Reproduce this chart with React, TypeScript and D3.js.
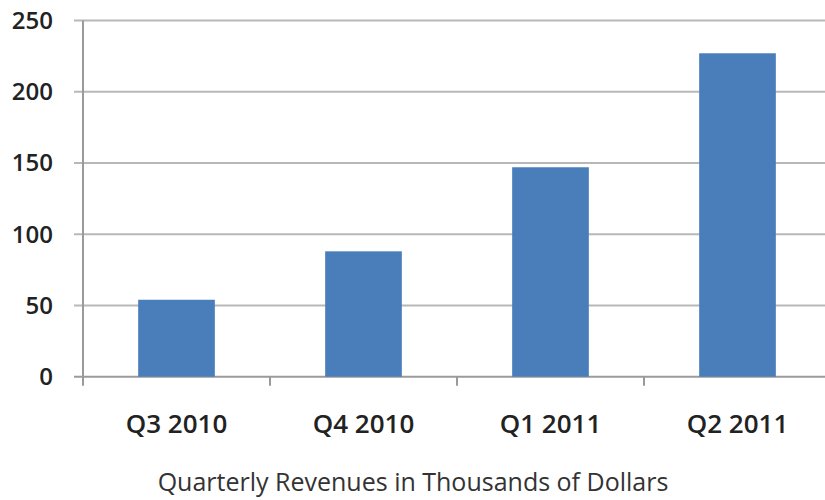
import React from "react";
import * as d3 from "d3";

const categories = ["Q3 2010", "Q4 2010", "Q1 2011", "Q2 2011"];
const revenues = [54, 88, 147, 227];
const yTicks = [0, 50, 100, 150, 200, 250];
const xTitle = "Quarterly Revenues in Thousands of Dollars";

export default function App() {
  const W = 825, H = 500;
  const left = 83, right = 831, top = 20.5, bottom = 376.7;
  const y = d3.scaleLinear().domain([0, 250]).range([bottom, top]);
  const xBand = d3.scaleBand<string>().domain(categories).range([left, right]).padding(0);
  const xBar = d3.scaleBand<string>().domain(categories).range([left, right]).paddingInner(0.59).paddingOuter(0.295);
  const font = "'Open Sans', 'Liberation Sans', sans-serif";
  const boundaries = categories.map((c) => xBand(c) as number);
  return (
    <svg width={W} height={H} style={{ position: "absolute", left: 0, top: 0, background: "#fff" }}>
      {yTicks.map((t) => (
        <g key={t}>
          <line x1={74} x2={W} y1={y(t)} y2={y(t)} stroke={t === 0 ? "#9a9a9a" : "#b8b8b8"} strokeWidth={2} />
          <text x={53} y={y(t) + 8.5} textAnchor="end" fontFamily={font} fontWeight={600} fontSize={24} fill="#222">
            {t}
          </text>
        </g>
      ))}
      <line x1={left} x2={left} y1={top} y2={bottom + 9} stroke="#9a9a9a" strokeWidth={2} />
      {boundaries.slice(1).map((b, i) => (
        <line key={i} x1={b} x2={b} y1={bottom} y2={bottom + 9} stroke="#9a9a9a" strokeWidth={2} />
      ))}
      {categories.map((c, i) => (
        <rect key={c} x={xBar(c)} width={xBar.bandwidth()} y={y(revenues[i])} height={y(0) - y(revenues[i])} fill="#4a7ebb" />
      ))}
      {categories.map((c) => (
        <text key={c} x={(xBand(c) as number) + xBand.bandwidth() / 2} y={433} textAnchor="middle" fontFamily={font} fontWeight={600} fontSize={26} fill="#222">
          {c}
        </text>
      ))}
      <text x={413} y={491} textAnchor="middle" fontFamily={font} fontSize={25} fill="#333">
        {xTitle}
      </text>
    </svg>
  );
}
